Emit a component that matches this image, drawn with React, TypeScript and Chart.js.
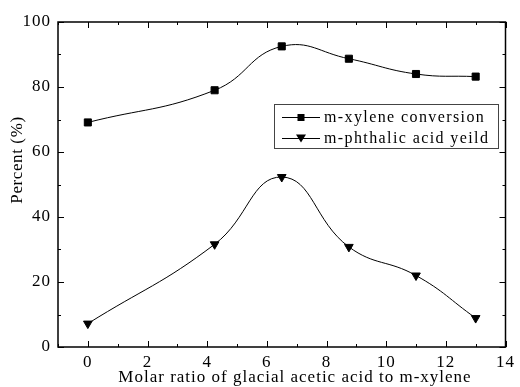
import React, { useEffect, useRef } from "react";
import { Chart, registerables } from "chart.js";

Chart.register(...registerables);

const ratios = [0, 4.25, 6.5, 8.75, 11, 13];
const conversion = [69.1, 79, 92.5, 88.7, 84, 83.2];
const yieldVals = [7.2, 31.6, 52.3, 30.8, 22, 8.9];
const xMajorTicks = [0, 2, 4, 6, 8, 10, 12, 14];
const xMinorTicks = [-1, 1, 3, 5, 7, 9, 11, 13];
const yMajorTicks = [0, 20, 40, 60, 80, 100];
const yMinorTicks = [10, 30, 50, 70, 90];
const seriesLabels = ["m-xylene conversion", "m-phthalic acid yeild"];
const xTitle = "Molar ratio of glacial acetic acid to m-xylene";
const yTitle = "Percent (%)";

const FONT = "'Liberation Serif', 'Times New Roman', serif";
const SPACING = "1px";

const spacingPlugin = {
  id: "spacing",
  beforeInit(chart: any) {
    chart.ctx.letterSpacing = SPACING;
  },
  beforeUpdate(chart: any) {
    chart.ctx.letterSpacing = SPACING;
  },
  beforeDraw(chart: any) {
    chart.ctx.letterSpacing = SPACING;
  },
};

const frameTicks = {
  id: "frameTicks",
  afterDraw(chart: any) {
    const { ctx, chartArea: a, scales } = chart;
    const x = scales.x;
    const y = scales.y;
    ctx.save();
    ctx.strokeStyle = "#000";
    ctx.lineWidth = 1.5;
    ctx.strokeRect(a.left, a.top, a.right - a.left, a.bottom - a.top);
    ctx.lineWidth = 1;
    const drawX = (v: number, len: number) => {
      const px = Math.round(x.getPixelForValue(v)) + 0.5;
      ctx.beginPath();
      ctx.moveTo(px, a.bottom);
      ctx.lineTo(px, a.bottom - len);
      ctx.moveTo(px, a.top);
      ctx.lineTo(px, a.top + len);
      ctx.stroke();
    };
    const drawY = (v: number, len: number) => {
      const py = Math.round(y.getPixelForValue(v)) + 0.5;
      ctx.beginPath();
      ctx.moveTo(a.left, py);
      ctx.lineTo(a.left + len, py);
      ctx.moveTo(a.right, py);
      ctx.lineTo(a.right - len, py);
      ctx.stroke();
    };
    xMajorTicks.forEach((v) => drawX(v, 6));
    xMinorTicks.forEach((v) => drawX(v, 3));
    yMajorTicks.forEach((v) => drawY(v, 6));
    yMinorTicks.forEach((v) => drawY(v, 3));

    // axis titles
    ctx.fillStyle = "#000";
    ctx.letterSpacing = "1px";
    ctx.font = "17px " + FONT;
    ctx.textAlign = "center";
    ctx.textBaseline = "middle";
    ctx.fillText(xTitle, 295, 378);
    ctx.save();
    ctx.translate(18, 160);
    ctx.rotate(-Math.PI / 2);
    ctx.letterSpacing = "0.6px";
    ctx.fillText(yTitle, 0, 0);
    ctx.restore();

    // legend
    const lx = 274, ly = 104, lw = 224, lh = 44;
    ctx.fillStyle = "#fff";
    ctx.fillRect(lx, ly, lw, lh);
    ctx.strokeStyle = "#444";
    ctx.lineWidth = 1;
    ctx.strokeRect(lx + 0.5, ly + 0.5, lw, lh);
    ctx.letterSpacing = "1.4px";
    ctx.font = "16px " + FONT;
    ctx.textBaseline = "middle";
    chart.data.datasets.forEach((ds: any, i: number) => {
      const cy = ly + 13 + i * 21;
      ctx.strokeStyle = "#000";
      ctx.beginPath();
      ctx.moveTo(lx + 8, cy + 0.5);
      ctx.lineTo(lx + 46, cy + 0.5);
      ctx.stroke();
      const mx = lx + 27;
      ctx.fillStyle = "#000";
      if (ds.pointStyle === "rect") {
        ctx.fillRect(mx - 3.5, cy - 3, 7, 7);
      } else {
        ctx.beginPath();
        ctx.moveTo(mx - 5, cy - 3.5);
        ctx.lineTo(mx + 5, cy - 3.5);
        ctx.lineTo(mx, cy + 4.5);
        ctx.closePath();
        ctx.fill();
      }
      ctx.fillStyle = "#000";
      ctx.textAlign = "left";
      ctx.fillText(ds.label, lx + 50, cy + 1);
    });
    ctx.restore();
  },
};

export default function App() {
  const ref = useRef<HTMLCanvasElement>(null);
  useEffect(() => {
    if (!ref.current) return;
    const chart = new Chart(ref.current, {
      type: "line",
      data: {
        datasets: [
          {
            label: seriesLabels[0],
            data: ratios.map((r, i) => ({ x: r, y: conversion[i] })),
            borderColor: "#000",
            backgroundColor: "#000",
            borderWidth: 1,
            pointStyle: "rect",
            pointRadius: 5,
            tension: 0.45,
          },
          {
            label: seriesLabels[1],
            data: ratios.map((r, i) => ({ x: r, y: yieldVals[i] })),
            borderColor: "#000",
            backgroundColor: "#000",
            borderWidth: 1,
            pointStyle: "triangle",
            pointRotation: 180,
            pointRadius: 5,
            tension: 0.45,
          },
        ],
      },
      options: {
        animation: false,
        responsive: false,
        layout: { padding: { top: 22, right: 10, left: 0, bottom: 0 } },
        plugins: { legend: { display: false }, tooltip: { enabled: false } },
        scales: {
          x: {
            type: "linear",
            min: -1,
            max: 14,
            grid: { display: false, drawTicks: false },
            border: { display: false },
            afterBuildTicks: (s: any) => {
              s.ticks = xMajorTicks.map((v) => ({ value: v }));
            },
            afterFit: (s: any) => {
              s.height = 40;
            },
            ticks: { color: "#000", font: { family: FONT, size: 17 }, padding: 5, maxRotation: 0 },
            title: { display: false },
          },
          y: {
            min: 0,
            max: 100,
            grid: { display: false, drawTicks: false },
            border: { display: false },
            afterBuildTicks: (s: any) => {
              s.ticks = yMajorTicks.map((v) => ({ value: v }));
            },
            afterFit: (s: any) => {
              s.width = 58;
            },
            ticks: { color: "#000", font: { family: FONT, size: 17 }, padding: 7 },
            title: { display: false },
          },
        },
      },
      plugins: [spacingPlugin, frameTicks],
    });
    return () => chart.destroy();
  }, []);
  return (
    <div style={{ position: "fixed", left: 0, top: 0, width: 520, height: 387, background: "#fff" }}>
      <canvas ref={ref} width={520} height={387} />
    </div>
  );
}
